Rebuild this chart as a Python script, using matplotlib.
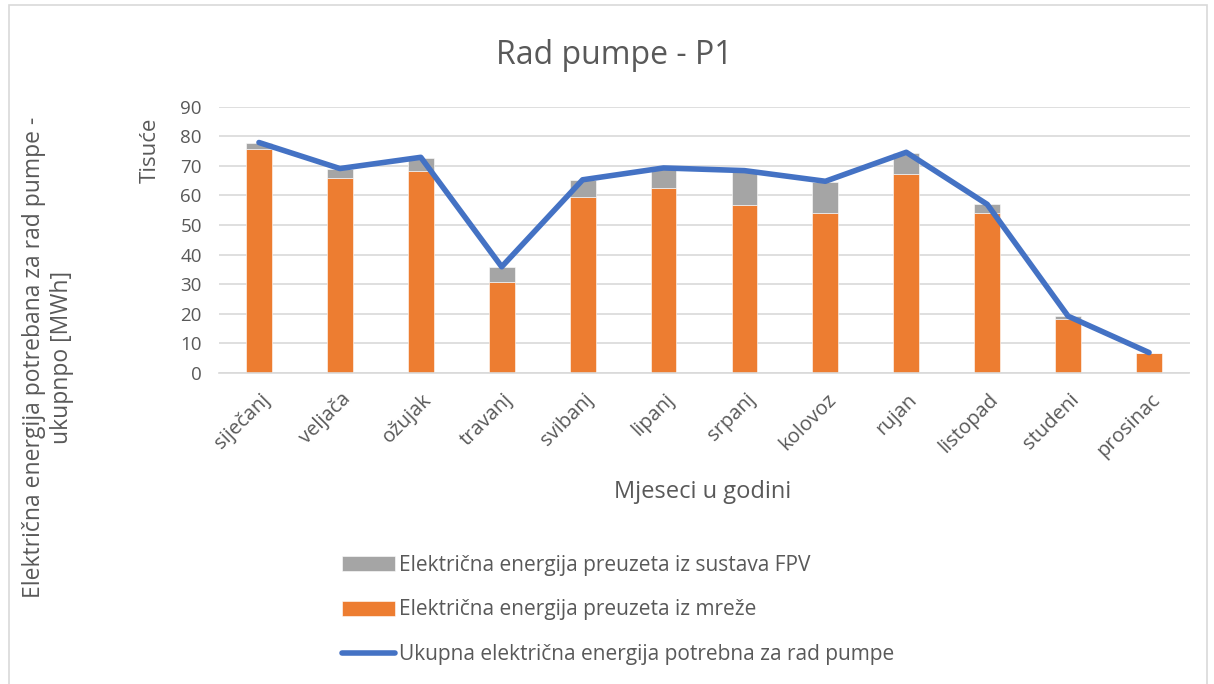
import numpy as np
import matplotlib
matplotlib.use("Agg")
from matplotlib import pyplot as plt
from matplotlib.patches import Rectangle
import matplotlib.transforms as mtrans

plt.rcParams['font.family'] = ['Open Sans', 'DejaVu Sans']

months = ['siječanj', 'veljača', 'ožujak', 'travanj', 'svibanj', 'lipanj',
          'srpanj', 'kolovoz', 'rujan', 'listopad', 'studeni', 'prosinac']
# values in thousands of kWh (Tisuće)
grid = [75.8, 66.0, 68.1, 30.8, 59.5, 62.5, 56.9, 54.1, 67.1, 54.1, 18.3, 6.9]
fpv = [2.1, 3.1, 4.7, 5.1, 5.6, 6.3, 10.9, 10.6, 7.4, 2.9, 0.9, 0.0]
total = [77.9, 69.1, 72.9, 35.9, 65.3, 69.3, 68.4, 64.8, 74.6, 57.0, 19.2, 6.9]
yticks = [0, 10, 20, 30, 40, 50, 60, 70, 80, 90]

txt = '#595959'
W, H = 1214, 684
fig = plt.figure(figsize=(W / 100, H / 100), dpi=100)
ax = fig.add_axes([218.5 / W, 1 - 373 / H, (1189.5 - 218.5) / W, (373 - 106.7) / H])

x = np.arange(len(months))
b_grid = ax.bar(x, grid, width=0.32, color='#ED7D31', edgecolor='white', linewidth=0.4, zorder=2)
b_fpv = ax.bar(x, fpv, width=0.32, bottom=grid, color='#A5A5A5', edgecolor='white', linewidth=0.4, zorder=2)
ln, = ax.plot(x, total, color='#4472C4', lw=4, solid_capstyle='round', solid_joinstyle='round', zorder=3)

ax.set_xlim(-0.5, len(months) - 0.5)
ax.set_ylim(0, 90)
ax.set_yticks(yticks)
ax.yaxis.grid(True, color='#D9D9D9', lw=1.2, zorder=0)
ax.set_axisbelow(True)
for s in ['top', 'right', 'left']:
    ax.spines[s].set_visible(False)
ax.spines['bottom'].set_color('#D9D9D9')
ax.spines['bottom'].set_linewidth(1.2)
ax.tick_params(length=0, labelsize=13.5, labelcolor=txt)
ax.tick_params(axis='y', pad=12)
ax.set_xticks(x)
ax.set_xticklabels(months, rotation=45, ha='right', va='center', rotation_mode='anchor', fontsize=14.5)
ax.tick_params(axis='x', pad=17)
shift = mtrans.ScaledTranslation(8 / 100, 0, fig.dpi_scale_trans)
for lab in ax.get_xticklabels():
    lab.set_transform(lab.get_transform() + shift)

fig.text(703 / W, 1 - 492 / H, 'Mjeseci u godini', ha='center', va='center', fontsize=17, color=txt)
fig.text(150 / W, 1 - 150 / H, 'Tisuće', rotation=90, ha='center', va='center', fontsize=16, color=txt)
fig.text(48 / W, 1 - 357 / H, 'Električna energija potrebana za rad pumpe -\nukupnpo [MWh]',
         rotation=90, ha='center', va='center', fontsize=16.5, color=txt, linespacing=1.25,
         multialignment='center')
fig.text(614 / W, 1 - 55 / H, 'Rad pumpe - P1', ha='center', va='center', fontsize=23, color=txt)

fig.legend([b_fpv, b_grid, ln],
           ['Električna energija preuzeta iz sustava FPV',
            'Električna energija preuzeta iz mreže',
            'Ukupna električna energija potrebna za rad pumpe'],
           loc='upper left', bbox_to_anchor=(323 / W, 1 - 536 / H),
           frameon=False, fontsize=15, labelcolor=txt,
           handlelength=2.55, handleheight=0.7, handletextpad=0.2, labelspacing=1.14)

fig.patches.append(Rectangle((9 / W, -0.01), (1207 - 9) / W, 1.01 - 5 / H, transform=fig.transFigure,
                             fill=False, edgecolor='#D9D9D9', lw=1.2))

fig.savefig('out.png', dpi=100, facecolor='white')
